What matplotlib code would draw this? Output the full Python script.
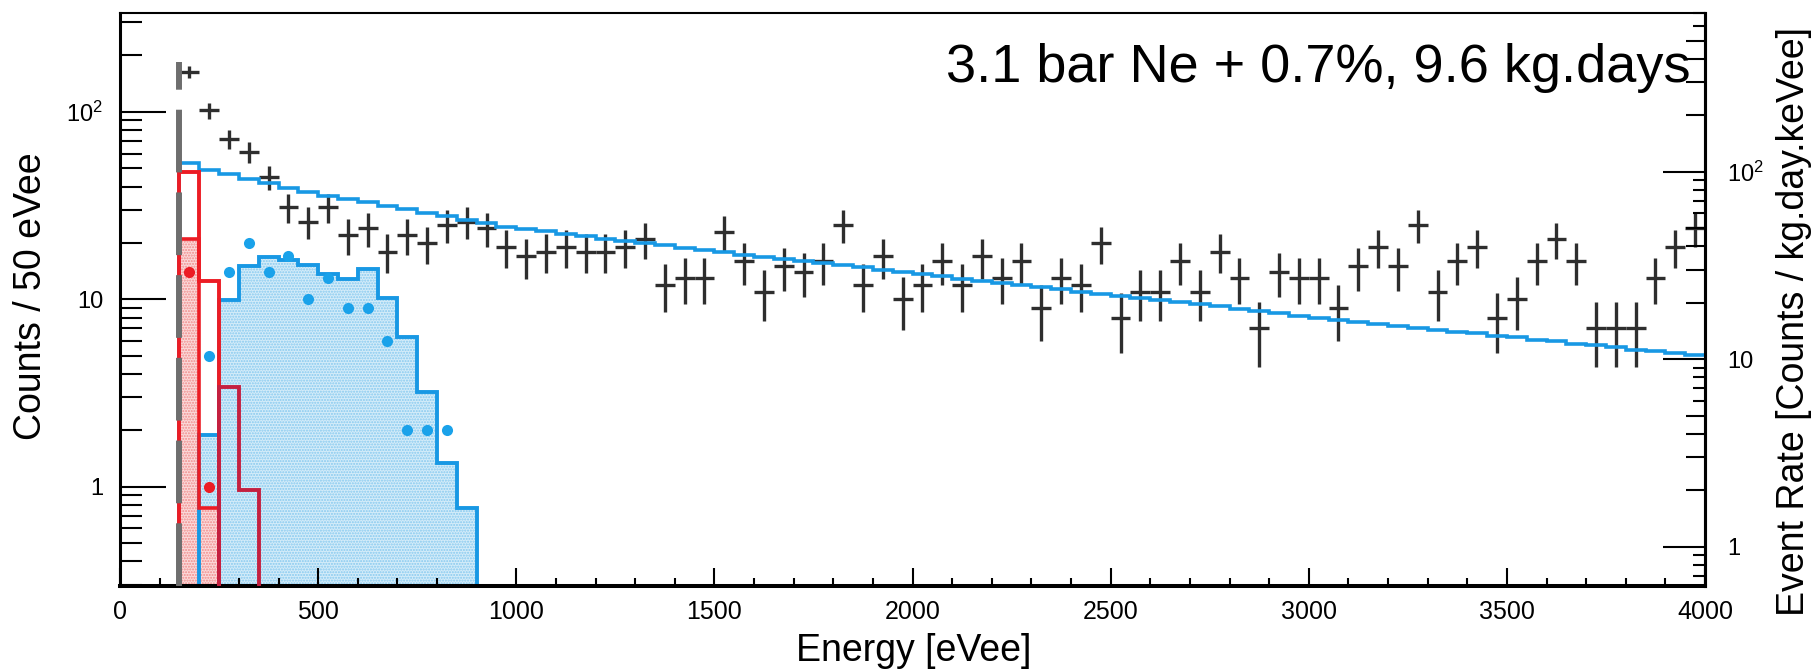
import numpy as np
import matplotlib
matplotlib.use("Agg")
import matplotlib.pyplot as plt
from matplotlib.ticker import FixedLocator, FixedFormatter, LogLocator, MultipleLocator, NullFormatter

plt.rcParams['font.family'] = ['Liberation Sans', 'DejaVu Sans']
plt.rcParams['mathtext.default'] = 'regular'

# 50 eVee bins, threshold at 150 eVee, exposure 9.6 kg.days
bin_w = 50
e_lo, e_hi = 150, 4000
threshold = 150
exposure = 9.6

# measured counts per bin (centres 175 ... 3975)
data_counts = [164, 102, 72, 61, 45, 31, 26, 31, 22, 24, 18, 22, 20, 25, 26, 24, 19,
               17, 18, 19, 18, 18, 19, 21, 12, 13, 13, 23, 16, 11, 15, 14, 16, 25, 12, 17, 10,
               12, 16, 12, 17, 13, 16, 9, 13, 12, 20, 8, 11, 11, 16, 11, 18, 13, 7, 14, 13,
               13, 9, 15, 19, 15, 25, 11, 16, 19, 8, 10, 16, 21, 16, 7, 7, 7, 13, 19, 24]

# background model (blue line), same bins
model_counts = [53.7, 49.1, 46.6, 44.0, 41.7, 39.4, 37.6, 35.7, 34.3, 33.0, 31.6, 30.3, 29.0, 27.8, 26.6, 25.5, 24.4,
                23.7, 23.1, 22.4, 21.8, 21.1, 20.5, 20.0, 19.4, 18.8, 18.3, 17.8, 17.3, 16.9, 16.4, 16.0, 15.6, 15.2, 14.8, 14.4, 14.0,
                13.6, 13.3, 12.9, 12.6, 12.2, 11.9, 11.6, 11.3, 11.0, 10.7, 10.4, 10.2, 9.9, 9.7, 9.4, 9.2, 8.9, 8.7, 8.5, 8.2,
                8.0, 7.8, 7.6, 7.4, 7.2, 7.05, 6.9, 6.7, 6.6, 6.4, 6.3, 6.1, 6.0, 5.8, 5.7, 5.6, 5.4, 5.3, 5.2, 5.06]

# blue filled histogram (200 - 900 eVee) and its simulated points
blue_edges = [200, 250, 300, 350, 400, 450, 500, 550, 600, 650, 700, 750, 800, 850, 900]
blue_hist = [1.9, 9.9, 15.1, 16.9, 16.3, 15.3, 13.6, 12.8, 14.5, 10.2, 6.3, 3.2, 1.34, 0.77]
blue_pts_e = [225, 275, 325, 375, 425, 475, 525, 575, 625, 675, 725, 775, 825]
blue_pts = [5, 14, 20, 14, 17, 10, 13, 9, 9, 6, 2, 2, 2]

# red histograms near threshold
red_edges = [150, 200, 250]
red_line = [48, 12.5]
red_fill = [20.9, 0.77]
red_pts_e = [175, 225]
red_pts = [14, 1]
dkred_edges = [250, 300, 350]
dkred_line = [3.4, 0.96]

x_ticks = [0, 500, 1000, 1500, 2000, 2500, 3000, 3500, 4000]
y_ticks = [1, 10, 100]
y_ticklabels = ['1', '10', '$10^{2}$']
ylo, yhi = 0.296, 337
rate_conv = 1.0 / (exposure * bin_w / 1000.0)

edges = np.arange(e_lo, e_hi + bin_w, bin_w)
centres = edges[:-1] + bin_w / 2
counts = np.array(data_counts, dtype=float)
floor = 1e-3

W, H = 1816, 670
fig = plt.figure(figsize=(W / 100, H / 100), dpi=100)
ax = fig.add_axes([120 / W, 1 - 586 / H, 1585 / W, 573 / H])

blue = '#1898e4'
red = '#ec1c24'
dkred = '#c42040'

# filled histograms
ax.stairs(blue_hist, blue_edges, baseline=floor, fill=True, facecolor='#d4ecf9',
          edgecolor='#86c9ef', hatch='......', linewidth=0, zorder=1)
ax.stairs(red_fill, red_edges, baseline=floor, fill=True, facecolor='#fbdada',
          edgecolor='#f08a8a', hatch='......', linewidth=0, zorder=1.5)
ax.stairs(blue_hist, blue_edges, baseline=floor, color=blue, lw=2.8, zorder=2)
ax.stairs(red_fill, red_edges, baseline=floor, color=red, lw=2.6, zorder=2)

# data
ax.errorbar(centres, counts, xerr=bin_w / 2, yerr=np.sqrt(counts), fmt='none',
            ecolor='#2e2e2e', elinewidth=2.4, capsize=0, zorder=3)

# background model (no closing edge at 4000)
ax.stairs(model_counts, edges, baseline=None, color=blue, lw=2.6, zorder=4)
ax.vlines(edges[0], floor, model_counts[0], color=blue, lw=2.6, zorder=4)

ax.stairs(red_line, red_edges, baseline=floor, color=red, lw=2.8, zorder=5)
ax.stairs(dkred_line, dkred_edges, baseline=floor, color=dkred, lw=2.8, zorder=5)

ax.plot(blue_pts_e, blue_pts, 'o', color='#1aa2ea', ms=8, mec='none', zorder=6)
ax.plot(red_pts_e, red_pts, 'o', color=red, ms=8, mec='none', zorder=6)

# analysis threshold
ax.plot([threshold, threshold], [ylo, 185], color='#6e6e6e', lw=4.3,
        linestyle=(0, (10.5, 3.35)), zorder=7)

ax.set_xlim(0, 4000)
ax.set_yscale('log')
ax.set_ylim(ylo, yhi)

ax.xaxis.set_major_locator(FixedLocator(x_ticks))
ax.xaxis.set_minor_locator(MultipleLocator(100))
ax.yaxis.set_major_locator(FixedLocator(y_ticks))
ax.yaxis.set_major_formatter(FixedFormatter(y_ticklabels))
ax.yaxis.set_minor_locator(LogLocator(subs=np.arange(2, 10)))
ax.yaxis.set_minor_formatter(NullFormatter())

ax.tick_params(which='both', direction='in', top=False, right=False, color='black')
ax.tick_params(axis='x', which='major', length=13, width=1.5, labelsize=18, pad=10)
ax.tick_params(axis='x', which='minor', length=6, width=1.5)
ax.tick_params(axis='y', which='major', length=33, width=1.5, labelsize=17, pad=12)
ax.tick_params(axis='y', which='minor', length=16, width=1.5)

ax.spines['left'].set_linewidth(2.2)
ax.spines['bottom'].set_linewidth(2.9)
ax.spines['top'].set_linewidth(1.5)
ax.spines['right'].set_linewidth(2.2)

# event-rate axis on the right
ax2 = ax.twinx()
ax2.set_yscale('log')
ax2.set_ylim(ylo * rate_conv, yhi * rate_conv)
ax2.yaxis.set_major_locator(FixedLocator(y_ticks))
ax2.yaxis.set_major_formatter(FixedFormatter(y_ticklabels))
ax2.yaxis.set_minor_locator(LogLocator(subs=[2, 3, 4, 5]))
ax2.yaxis.set_minor_formatter(NullFormatter())
ax2.tick_params(which='both', direction='in', color='black')
ax2.tick_params(which='major', length=30, width=1.5, labelsize=17, pad=16)
ax2.tick_params(which='minor', length=14, width=1.5)
for s in ['left', 'top', 'bottom']:
    ax2.spines[s].set_visible(False)
ax2.spines['right'].set_linewidth(2.2)

ax3 = ax.twinx()
ax3.set_yscale('log')
ax3.set_ylim(ylo * rate_conv, yhi * rate_conv)
ax3.yaxis.set_major_locator(FixedLocator([]))
ax3.yaxis.set_minor_locator(LogLocator(subs=[6, 7, 8, 9]))
ax3.yaxis.set_minor_formatter(NullFormatter())
ax3.tick_params(which='minor', direction='in', length=8.5, width=1.5, color='black')
for s in ax3.spines.values():
    s.set_visible(False)

fig.text(31 / W, 1 - 296 / H, 'Counts / 50 eVee', rotation=90, ha='center', va='center', fontsize=27)
fig.text(914 / W, 1 - 651 / H, 'Energy [eVee]', ha='center', va='center', fontsize=27)
fig.text(1794 / W, 1 - 321 / H, 'Event Rate [Counts / kg.day.keVee]', rotation=90,
         ha='center', va='center', fontsize=27)
fig.text(1318 / W, 1 - 82 / H, '3.1 bar Ne + 0.7%, 9.6 kg.days', ha='center', va='baseline', fontsize=39)

fig.savefig('out.png', dpi=100)
